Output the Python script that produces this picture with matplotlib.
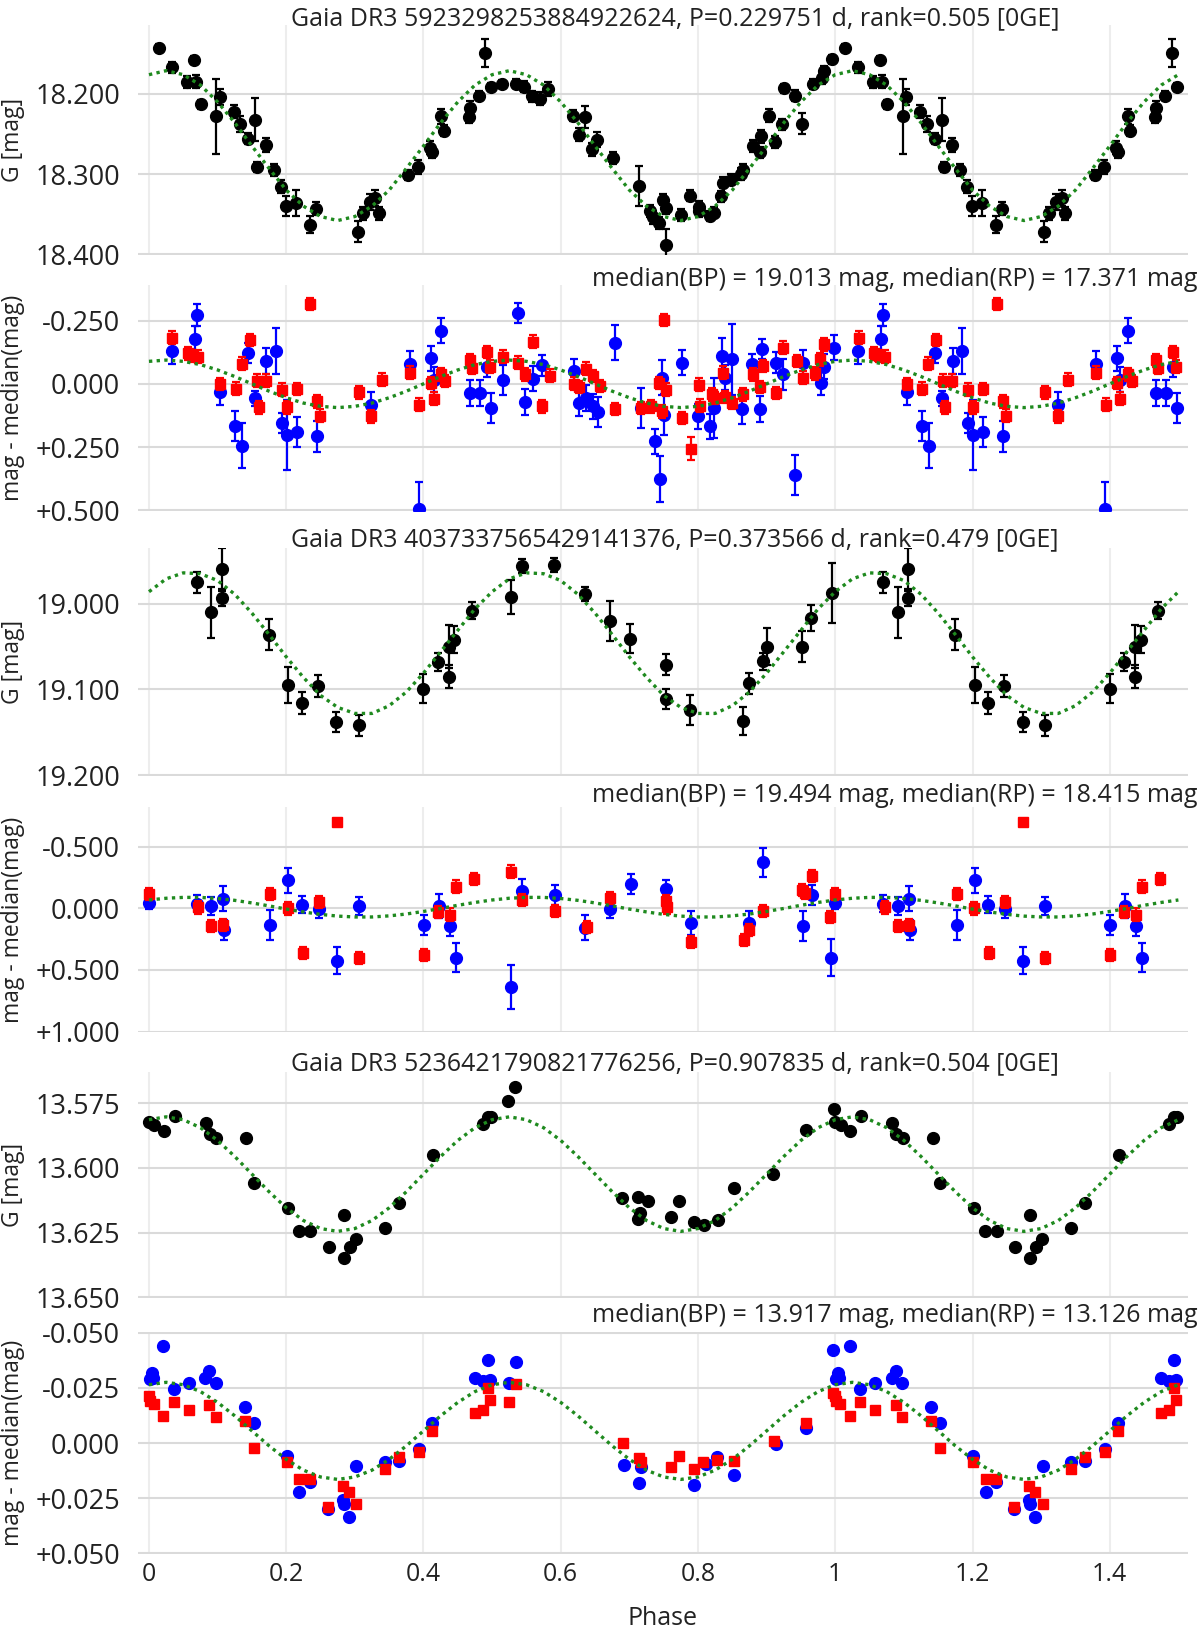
#!/usr/bin/env python
# -*- coding: utf-8 -*-
import numpy as np
import matplotlib
matplotlib.use('Agg')
import matplotlib.pyplot as plt
from matplotlib.ticker import FuncFormatter

plt.rcParams['font.family'] = ['Open Sans', 'DejaVu Sans']

TITLES = ['Gaia DR3 5923298253884922624, P=0.229751 d, rank=0.505 [0GE]',
          'Gaia DR3 4037337565429141376, P=0.373566 d, rank=0.479 [0GE]',
          'Gaia DR3 5236421790821776256, P=0.907835 d, rank=0.504 [0GE]']
MEDIANS = ['median(BP) = 19.013 mag, median(RP) = 17.371 mag',
           'median(BP) = 19.494 mag, median(RP) = 18.415 mag',
           'median(BP) = 13.917 mag, median(RP) = 13.126 mag']

# ---------------- star 1 ----------------
g1_phase = [0.014, 0.033, 0.055, 0.065, 0.068, 0.076, 0.098, 0.103, 0.124, 0.133,
            0.145, 0.155, 0.158, 0.170, 0.182, 0.192, 0.199, 0.214, 0.234, 0.243,
            0.304, 0.312, 0.322, 0.330, 0.335, 0.378, 0.392, 0.409, 0.412, 0.426,
            0.430, 0.466, 0.468, 0.481, 0.490, 0.498, 0.515, 0.535, 0.546, 0.558,
            0.570, 0.582, 0.618, 0.626, 0.636, 0.646, 0.653, 0.676, 0.714, 0.730,
            0.735, 0.743, 0.749, 0.753, 0.753, 0.775, 0.789, 0.801, 0.802, 0.818,
            0.823, 0.833, 0.836, 0.848, 0.863, 0.865, 0.880, 0.890, 0.892, 0.903,
            0.912, 0.922, 0.926, 0.942, 0.952, 0.968, 0.980, 0.983, 0.995]
g1_mag = [18.143, 18.167, 18.185, 18.158, 18.185, 18.213, 18.228, 18.204, 18.222, 18.237,
          18.256, 18.232, 18.291, 18.264, 18.295, 18.316, 18.340, 18.336, 18.363, 18.343,
          18.372, 18.349, 18.335, 18.330, 18.349, 18.301, 18.291, 18.267, 18.273, 18.228,
          18.246, 18.229, 18.217, 18.202, 18.149, 18.191, 18.188, 18.187, 18.191, 18.203,
          18.206, 18.194, 18.227, 18.251, 18.229, 18.269, 18.257, 18.280, 18.315, 18.346,
          18.354, 18.361, 18.332, 18.342, 18.388, 18.351, 18.327, 18.341, 18.346, 18.352,
          18.348, 18.328, 18.311, 18.307, 18.300, 18.295, 18.265, 18.273, 18.253, 18.227,
          18.260, 18.238, 18.193, 18.202, 18.237, 18.188, 18.180, 18.171, 18.157]
g1_err = [0.005, 0.007, 0.007, 0.005, 0.008, 0.006, 0.047, 0.010, 0.008, 0.010,
          0.007, 0.027, 0.006, 0.009, 0.008, 0.008, 0.012, 0.016, 0.011, 0.008,
          0.013, 0.008, 0.010, 0.010, 0.008, 0.006, 0.009, 0.008, 0.007, 0.009,
          0.007, 0.007, 0.008, 0.006, 0.018, 0.005, 0.005, 0.006, 0.007, 0.007,
          0.008, 0.009, 0.007, 0.008, 0.014, 0.008, 0.009, 0.008, 0.025, 0.008,
          0.008, 0.007, 0.007, 0.008, 0.020, 0.008, 0.007, 0.008, 0.008, 0.006,
          0.007, 0.007, 0.007, 0.007, 0.007, 0.008, 0.008, 0.007, 0.008, 0.008,
          0.007, 0.007, 0.006, 0.007, 0.013, 0.006, 0.007, 0.006, 0.006]
g1_model = [18.176, 18.171, 18.176, 18.189, 18.210, 18.236, 18.265, 18.293, 18.320, 18.340,
            18.353, 18.358, 18.353, 18.340, 18.320, 18.293, 18.265, 18.236, 18.210, 18.189,
            18.176, 18.171, 18.176, 18.189, 18.210, 18.236, 18.265, 18.293, 18.320, 18.340,
            18.353, 18.358, 18.353, 18.340, 18.320, 18.293, 18.265, 18.236, 18.210, 18.189,
            18.176]

bp1_phase = [0.033, 0.067, 0.070, 0.104, 0.126, 0.136, 0.145, 0.155, 0.171, 0.185,
             0.194, 0.201, 0.215, 0.245, 0.324, 0.380, 0.393, 0.411, 0.415, 0.426,
             0.468, 0.482, 0.492, 0.498, 0.516, 0.538, 0.548, 0.559, 0.572, 0.620,
             0.627, 0.637, 0.647, 0.655, 0.679, 0.717, 0.737, 0.745, 0.748, 0.751,
             0.777, 0.800, 0.818, 0.824, 0.835, 0.839, 0.849, 0.864, 0.878, 0.891,
             0.893, 0.913, 0.924, 0.942, 0.953, 0.979, 0.983, 0.998]
bp1_dmag = [-0.130, -0.179, -0.272, 0.032, 0.168, 0.244, -0.121, 0.057, -0.090, -0.130,
            0.155, 0.202, 0.191, 0.208, 0.082, -0.080, 0.497, -0.101, -0.017, -0.210,
            0.036, 0.036, -0.068, 0.095, -0.015, -0.280, 0.072, -0.021, -0.073, -0.050,
            0.076, 0.056, 0.089, 0.111, -0.163, 0.095, 0.228, 0.377, -0.024, 0.122,
            -0.084, 0.129, 0.168, 0.095, -0.110, -0.024, -0.097, 0.098, -0.077, 0.099,
            -0.139, -0.084, -0.037, 0.361, -0.084, -0.004, -0.068, -0.143]
bp1_err = [0.050, 0.050, 0.045, 0.050, 0.060, 0.090, 0.040, 0.030, 0.050, 0.090,
           0.040, 0.140, 0.060, 0.060, 0.050, 0.050, 0.110, 0.050, 0.050, 0.050,
           0.050, 0.050, 0.040, 0.060, 0.060, 0.040, 0.050, 0.050, 0.040, 0.050,
           0.050, 0.050, 0.050, 0.060, 0.070, 0.080, 0.050, 0.090, 0.070, 0.080,
           0.050, 0.050, 0.050, 0.120, 0.070, 0.050, 0.140, 0.060, 0.040, 0.050,
           0.040, 0.040, 0.060, 0.080, 0.050, 0.050, 0.050, 0.050]
rp1_phase = [0.034, 0.057, 0.064, 0.072, 0.104, 0.127, 0.135, 0.147, 0.157, 0.160,
             0.170, 0.194, 0.201, 0.216, 0.235, 0.245, 0.249, 0.306, 0.324, 0.339,
             0.380, 0.394, 0.411, 0.415, 0.426, 0.432, 0.468, 0.470, 0.492, 0.497,
             0.516, 0.537, 0.548, 0.559, 0.572, 0.584, 0.620, 0.627, 0.637, 0.647,
             0.657, 0.679, 0.717, 0.732, 0.743, 0.748, 0.751, 0.754, 0.777, 0.790,
             0.802, 0.803, 0.820, 0.825, 0.836, 0.839, 0.850, 0.865, 0.880, 0.891,
             0.895, 0.913, 0.924, 0.944, 0.953, 0.970, 0.978, 0.983]
rp1_dmag = [-0.183, -0.121, -0.110, -0.107, 0.000, 0.019, -0.080, -0.174, -0.013, 0.093,
            -0.013, 0.023, 0.093, 0.020, -0.316, 0.069, 0.126, 0.033, 0.129, -0.017,
            -0.044, 0.082, -0.004, 0.058, -0.037, -0.011, -0.093, -0.064, -0.126, -0.068,
            -0.107, -0.084, -0.037, -0.167, 0.089, -0.033, -0.001, 0.012, -0.060, -0.031,
            0.009, 0.099, 0.095, 0.089, -0.004, 0.109, -0.253, 0.023, 0.135, 0.257,
            0.003, 0.086, 0.042, 0.056, -0.044, 0.052, 0.076, 0.042, -0.037, 0.012,
            -0.070, 0.036, -0.143, -0.090, -0.024, -0.041, -0.097, -0.156]
rp1_err = [0.025] * 49 + [0.045] + [0.025] * 18
c1_model = [-0.089, -0.094, -0.089, -0.076, -0.055, -0.029, 0.000, 0.029, 0.055, 0.076,
            0.089, 0.094, 0.089, 0.076, 0.055, 0.029, 0.000, -0.029, -0.055, -0.076,
            -0.089, -0.094, -0.089, -0.076, -0.055, -0.029, 0.000, 0.029, 0.055, 0.076,
            0.089, 0.094, 0.089, 0.076, 0.055, 0.029, 0.000, -0.029, -0.055, -0.076,
            -0.089]

# ---------------- star 2 ----------------
g2_phase = [0.070, 0.091, 0.106, 0.106, 0.175, 0.203, 0.223, 0.246, 0.273, 0.306,
            0.400, 0.421, 0.437, 0.445, 0.437, 0.471, 0.527, 0.543, 0.590, 0.636,
            0.672, 0.701, 0.753, 0.753, 0.789, 0.865, 0.874, 0.895, 0.900, 0.951,
            0.964, 0.995]
g2_mag = [18.975, 19.010, 18.960, 18.993, 19.036, 19.095, 19.116, 19.096, 19.138, 19.142,
          19.099, 19.068, 19.050, 19.042, 19.085, 19.008, 18.992, 18.956, 18.955, 18.989,
          19.020, 19.041, 19.071, 19.111, 19.124, 19.137, 19.093, 19.067, 19.050, 19.050,
          19.017, 18.988]
g2_err = [0.012, 0.030, 0.025, 0.010, 0.018, 0.021, 0.013, 0.013, 0.012, 0.012,
          0.017, 0.010, 0.025, 0.016, 0.013, 0.010, 0.020, 0.008, 0.008, 0.008,
          0.023, 0.017, 0.012, 0.012, 0.018, 0.016, 0.012, 0.010, 0.022, 0.018,
          0.015, 0.035]
g2_model = [18.986, 18.971, 18.964, 18.965, 18.973, 18.989, 19.011, 19.036, 19.062, 19.086,
            19.107, 19.121, 19.128, 19.128, 19.119, 19.103, 19.081, 19.056, 19.031, 19.006,
            18.986, 18.971, 18.964, 18.965, 18.973, 18.989, 19.011, 19.036, 19.062, 19.086,
            19.107, 19.121, 19.128, 19.128, 19.119, 19.103, 19.081, 19.056, 19.031, 19.006,
            18.986]

bp2_phase = [0.000, 0.070, 0.091, 0.108, 0.109, 0.177, 0.203, 0.223, 0.248, 0.274,
             0.306, 0.401, 0.422, 0.438, 0.447, 0.528, 0.543, 0.591, 0.636, 0.672,
             0.702, 0.754, 0.790, 0.874, 0.895, 0.953, 0.966, 0.994]
bp2_dmag = [-0.047, -0.039, -0.020, -0.079, 0.177, 0.137, -0.228, -0.031, 0.008, 0.424,
            -0.020, 0.137, -0.020, 0.145, 0.400, 0.640, -0.137, -0.106, 0.157, 0.008,
            -0.196, -0.157, 0.118, 0.118, -0.373, 0.145, -0.106, 0.400]
bp2_err = [0.05, 0.07, 0.07, 0.10, 0.08, 0.12, 0.10, 0.07, 0.07, 0.11,
           0.07, 0.08, 0.10, 0.08, 0.12, 0.18, 0.10, 0.08, 0.10, 0.07,
           0.08, 0.07, 0.10, 0.10, 0.12, 0.12, 0.08, 0.15]
rp2_phase = [0.000, 0.072, 0.091, 0.108, 0.177, 0.202, 0.224, 0.248, 0.274, 0.306,
             0.401, 0.421, 0.438, 0.447, 0.473, 0.527, 0.544, 0.591, 0.638, 0.672,
             0.753, 0.755, 0.790, 0.867, 0.874, 0.895, 0.952, 0.956, 0.966, 0.992]
rp2_dmag = [-0.118, -0.008, 0.145, 0.137, -0.118, 0.000, 0.365, -0.051, -0.699, 0.404,
            0.381, 0.027, 0.051, -0.177, -0.236, -0.298, -0.067, 0.020, 0.149, -0.086,
            -0.059, -0.008, 0.275, 0.255, 0.177, 0.020, -0.149, -0.126, -0.263, 0.071]
rp2_err = [0.05, 0.05, 0.05, 0.05, 0.05, 0.05, 0.05, 0.05, 0.02, 0.05,
           0.05, 0.05, 0.05, 0.05, 0.05, 0.05, 0.05, 0.05, 0.05, 0.05,
           0.05, 0.05, 0.05, 0.05, 0.05, 0.05, 0.05, 0.05, 0.05, 0.05]
c2_model = [-0.068, -0.082, -0.089, -0.089, -0.080, -0.065, -0.044, -0.020, 0.006, 0.029,
            0.049, 0.063, 0.070, 0.070, 0.061, 0.046, 0.025, 0.001, -0.025, -0.048,
            -0.068, -0.082, -0.089, -0.089, -0.080, -0.065, -0.044, -0.020, 0.006, 0.029,
            0.049, 0.063, 0.070, 0.070, 0.061, 0.046, 0.025, 0.001, -0.025, -0.048,
            -0.068]

# ---------------- star 3 ----------------
g3_phase = [0.000, 0.008, 0.022, 0.038, 0.083, 0.089, 0.098, 0.142, 0.153, 0.202,
            0.218, 0.235, 0.262, 0.284, 0.284, 0.293, 0.301, 0.344, 0.364, 0.414,
            0.487, 0.494, 0.498, 0.523, 0.534, 0.689, 0.712, 0.713, 0.715, 0.727,
            0.760, 0.772, 0.794, 0.809, 0.829, 0.852, 0.909, 0.958, 0.998]
g3_mag = [13.5822, 13.5835, 13.5857, 13.5801, 13.5825, 13.5869, 13.5886, 13.5886, 13.6057, 13.6155,
          13.6245, 13.6245, 13.6306, 13.6183, 13.6349, 13.6306, 13.6274, 13.6230, 13.6136, 13.5952,
          13.5829, 13.5803, 13.5803, 13.5741, 13.5688, 13.6117, 13.6198, 13.6112, 13.6174, 13.6127,
          13.6189, 13.6127, 13.6208, 13.6221, 13.6202, 13.6076, 13.6023, 13.5854, 13.5774]
g3_err = [0.0006] * 39
g3_model = [13.5814, 13.5803, 13.5814, 13.5845, 13.5894, 13.5956, 13.6024, 13.6092, 13.6154, 13.6203,
            13.6234, 13.6245, 13.6234, 13.6203, 13.6154, 13.6092, 13.6024, 13.5956, 13.5894, 13.5845,
            13.5814, 13.5803, 13.5814, 13.5845, 13.5894, 13.5956, 13.6024, 13.6092, 13.6154, 13.6203,
            13.6234, 13.6245, 13.6234, 13.6203, 13.6154, 13.6092, 13.6024, 13.5956, 13.5894, 13.5845,
            13.5814]

bp3_phase = [0.001, 0.004, 0.006, 0.021, 0.036, 0.058, 0.082, 0.088, 0.097, 0.140,
             0.153, 0.201, 0.219, 0.234, 0.261, 0.283, 0.284, 0.291, 0.302, 0.344,
             0.364, 0.393, 0.412, 0.475, 0.486, 0.494, 0.497, 0.524, 0.535, 0.692,
             0.714, 0.717, 0.794, 0.811, 0.828, 0.853, 0.913, 0.958, 0.997]
bp3_dmag = [-0.0291, -0.0316, -0.0294, -0.0439, -0.0244, -0.0274, -0.0294, -0.0327, -0.0274, -0.0165,
            -0.0091, 0.0058, 0.0223, 0.0178, 0.0298, 0.0258, 0.0276, 0.0336, 0.0103, 0.0088,
            0.0081, 0.0028, -0.0091, -0.0294, -0.0279, -0.0376, -0.0286, -0.0271, -0.0366, 0.0099,
            0.0183, 0.0111, 0.0190, 0.0096, 0.0063, 0.0145, 0.0006, -0.0066, -0.0421]
bp3_err = [0.0012] * 39
rp3_phase = [0.000, 0.001, 0.007, 0.021, 0.036, 0.058, 0.088, 0.097, 0.140, 0.153,
             0.201, 0.219, 0.234, 0.261, 0.283, 0.291, 0.302, 0.344, 0.364, 0.393,
             0.412, 0.475, 0.486, 0.494, 0.497, 0.524, 0.535, 0.690, 0.714, 0.717,
             0.760, 0.772, 0.794, 0.808, 0.828, 0.853, 0.911, 0.958, 0.997]
rp3_dmag = [-0.0211, -0.0189, -0.0177, -0.0121, -0.0186, -0.0148, -0.0174, -0.0117, -0.0099, 0.0024,
            0.0088, 0.0163, 0.0163, 0.0288, 0.0193, 0.0223, 0.0276, 0.0118, 0.0063, 0.0043,
            -0.0054, -0.0136, -0.0151, -0.0249, -0.0196, -0.0186, -0.0267, -0.0001, 0.0066, 0.0088,
            0.0108, 0.0058, 0.0118, 0.0084, 0.0078, 0.0081, -0.0009, -0.0091, -0.0226]
rp3_err = [0.0008] * 39
c3_model = [-0.0264, -0.0275, -0.0264, -0.0233, -0.0184, -0.0123, -0.0055, 0.0013, 0.0074, 0.0123,
            0.0154, 0.0165, 0.0154, 0.0123, 0.0074, 0.0013, -0.0055, -0.0123, -0.0184, -0.0233,
            -0.0264, -0.0275, -0.0264, -0.0233, -0.0184, -0.0123, -0.0055, 0.0013, 0.0074, 0.0123,
            0.0154, 0.0165, 0.0154, 0.0123, 0.0074, 0.0013, -0.0055, -0.0123, -0.0184, -0.0233,
            -0.0264]

# ---------------- layout (pixels of the 1200x1630 figure) ----------------
W, H = 1200.0, 1630.0
AX_LEFT, AX_RIGHT = 138, 1188
PANELS = [(25, 255), (285, 511), (548, 776), (807, 1032), (1072, 1298), (1332, 1554)]
YLIMS = [(18.401, 18.114), (0.503, -0.391), (19.201, 18.935),
         (1.004, -0.823), (13.6502, 13.563), (0.0503, -0.0503)]
YTICKS = [[18.2, 18.3, 18.4], [-0.25, 0, 0.25, 0.5], [19.0, 19.1, 19.2],
          [-0.5, 0, 0.5, 1.0], [13.575, 13.6, 13.625, 13.65],
          [-0.05, -0.025, 0, 0.025, 0.05]]
TITLE_Y = [25, 546, 1070]
MEDIAN_Y = [286, 802, 1322]
XTICKS = [0, 0.2, 0.4, 0.6, 0.8, 1.0, 1.2, 1.4]
XLABELS = ['0', '0.2', '0.4', '0.6', '0.8', '1', '1.2', '1.4']
FS = 18
YTICK_FS = 19.5
YLAB_FS = 16.5
TXT = '#222222'
GREEN = '#1f8a1f'


def _fold(phase, *cols):
    phase = np.asarray(phase, dtype=float)
    sel = phase < 0.5
    out = [np.concatenate([phase, phase[sel] + 1.0])]
    for c in cols:
        c = np.asarray(c, dtype=float)
        out.append(np.concatenate([c, c[sel]]))
    return out


def _fold_model(vals):
    vals = np.asarray(vals, dtype=float)
    ph = np.linspace(0.0, 1.0, len(vals))
    sel = (ph > 0) & (ph <= 0.5)
    return np.concatenate([ph, ph[sel] + 1.0]), np.concatenate([vals, vals[sel]])


def _fmt_g(v, pos):
    return '{:.3f}'.format(v)


def _fmt_d(v, pos):
    if abs(v) < 1e-9:
        return '0.000'
    return '{:+.3f}'.format(v)


def _axes(fig, i, bottom=False):
    top, bot = PANELS[i]
    ax = fig.add_axes([AX_LEFT / W, 1 - bot / H, (AX_RIGHT - AX_LEFT) / W, (bot - top) / H])
    ax.set_xlim(-0.016, 1.514)
    ax.set_ylim(*YLIMS[i])
    ax.set_yticks(YTICKS[i])
    ax.yaxis.set_major_formatter(FuncFormatter(_fmt_g if i % 2 == 0 else _fmt_d))
    ax.set_xticks(XTICKS)
    if bottom:
        ax.set_xticklabels(XLABELS)
    else:
        ax.set_xticklabels([])
    ax.tick_params(length=0, colors=TXT)
    ax.tick_params(axis='y', pad=13, labelsize=YTICK_FS)
    ax.tick_params(axis='x', pad=6, labelsize=FS)
    for s in ax.spines.values():
        s.set_visible(False)
    ax.grid(axis='y', color='#dadada', lw=1.5)
    ax.grid(axis='x', color='#ededed', lw=1.5)
    ax.set_axisbelow(True)
    ylab = 'G [mag]' if i % 2 == 0 else 'mag - median(mag)'
    fig.text(13 / W, 1 - (top + bot) / 2.0 / H, ylab, rotation=90,
             ha='center', va='center', fontsize=YLAB_FS, color=TXT)
    return ax


def _errbar(ax, x, y, e, color, marker, ms, z):
    ax.errorbar(x, y, yerr=e, fmt=marker, color=color, ms=ms, mec=color, mfc=color,
                elinewidth=1.6, capsize=3, capthick=1.6, zorder=z)


def _model(ax, vals):
    x, y = _fold_model(vals)
    ax.plot(x, y, color=GREEN, lw=2.4, dashes=(1.0, 1.3), zorder=10)


def _plot():
    fig = plt.figure(figsize=(12, 16.3), dpi=100)

    stars = [
        (g1_phase, g1_mag, g1_err, g1_model,
         bp1_phase, bp1_dmag, bp1_err, rp1_phase, rp1_dmag, rp1_err, c1_model),
        (g2_phase, g2_mag, g2_err, g2_model,
         bp2_phase, bp2_dmag, bp2_err, rp2_phase, rp2_dmag, rp2_err, c2_model),
        (g3_phase, g3_mag, g3_err, g3_model,
         bp3_phase, bp3_dmag, bp3_err, rp3_phase, rp3_dmag, rp3_err, c3_model),
    ]
    for k, st in enumerate(stars):
        gp, gm, ge, gmod, bp, bd, be, rp, rd, re, cmod = st

        ax = _axes(fig, 2 * k)
        x, y, e = _fold(gp, gm, ge)
        _errbar(ax, x, y, e, 'black', 'o', 8.5, 3)
        _model(ax, gmod)
        fig.text(675 / W, 1 - TITLE_Y[k] / H, TITLES[k], ha='center', va='baseline',
                 fontsize=FS, color=TXT)

        ax = _axes(fig, 2 * k + 1, bottom=(k == 2))
        x, y, e = _fold(bp, bd, be)
        _errbar(ax, x, y, e, '#0000ff', 'o', 8.5, 3)
        x, y, e = _fold(rp, rd, re)
        _errbar(ax, x, y, e, '#ff0000', 's', 7.2, 4)
        _model(ax, cmod)
        fig.text(1198 / W, 1 - MEDIAN_Y[k] / H, MEDIANS[k], ha='right', va='baseline',
                 fontsize=FS, color=TXT)

    fig.text((AX_LEFT + AX_RIGHT) / 2.0 / W, 1 - 1625 / H, 'Phase', ha='center',
             va='baseline', fontsize=FS, color=TXT)
    fig.savefig('out.png', dpi=100)


if __name__ == '__main__':
    _plot()
